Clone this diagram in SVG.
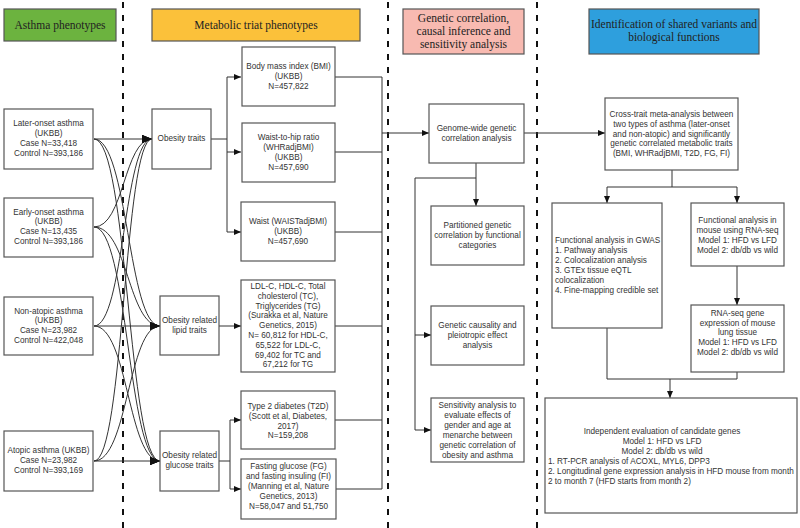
<svg xmlns="http://www.w3.org/2000/svg" width="800" height="528" viewBox="0 0 800 528">
<defs>
<style>
.bx{fill:#fff;stroke:#555;stroke-width:1.2}
.t{font-family:"Liberation Sans",Arial,sans-serif;font-size:8.2px;fill:#333;text-anchor:middle}
.tl{font-family:"Liberation Sans",Arial,sans-serif;font-size:8.2px;fill:#333}
.h{font-family:"Liberation Serif","Times New Roman",serif;font-size:11.5px;fill:#222;text-anchor:middle}
.hb{stroke:#555;stroke-width:1.2}
.c{fill:none;stroke:#333;stroke-width:1}
.d{stroke:#111;stroke-width:2;stroke-dasharray:6 7}
</style>
<marker id="a" markerWidth="7" markerHeight="6" refX="7" refY="3" orient="auto" markerUnits="userSpaceOnUse"><path d="M0,0L7,3L0,6z" fill="#111"/></marker>
<marker id="ab" markerWidth="10" markerHeight="8" refX="10" refY="4" orient="auto" markerUnits="userSpaceOnUse"><path d="M0,0L10,4L0,8z" fill="#111"/></marker>
</defs>
<rect width="800" height="528" fill="#fff"/>
<g id="dividers">
<line class="d" x1="123" y1="2" x2="123" y2="528"/>
<line class="d" x1="388" y1="2" x2="388" y2="528"/>
<line class="d" x1="537" y1="2" x2="537" y2="528"/>
</g>
<g id="h1"><rect class="hb" x="4" y="9" width="112" height="32" fill="#6cb33f"/><text class="h" x="60" y="29">Asthma phenotypes</text></g>
<g id="h2"><rect class="hb" x="152" y="9" width="208" height="32" fill="#fbc13a"/><text class="h" x="256" y="29">Metabolic triat phenotypes</text></g>
<g id="h3"><rect class="hb" x="403" y="9" width="121" height="45" fill="#f8bab1"/><text class="h" x="463.5" y="22">Genetic correlation,</text><text class="h" x="463.5" y="35">causal inference and</text><text class="h" x="463.5" y="48">sensitivity analysis</text></g>
<g id="h4"><rect class="hb" x="589" y="9" width="170" height="45" fill="#2e9fdd"/><text class="h" x="674" y="28">Identification of shared variants and</text><text class="h" x="674" y="41">biological functions</text></g>

<g id="connectors">
<!-- asthma curves -->
<path class="c" marker-end="url(#ab)" d="M94,139L152,139"/>
<path class="c" marker-end="url(#ab)" d="M94,139C128,139 128,326 160,326"/>
<path class="c" marker-end="url(#ab)" d="M94,139C128,139 128,461 160,461"/>
<path class="c" marker-end="url(#ab)" d="M94,227C124,227 124,139 152,139"/>
<path class="c" marker-end="url(#ab)" d="M94,227C128,227 128,326 160,326"/>
<path class="c" marker-end="url(#ab)" d="M94,227C128,227 128,461 160,461"/>
<path class="c" marker-end="url(#ab)" d="M94,326C124,326 124,139 152,139"/>
<path class="c" marker-end="url(#ab)" d="M94,326L160,326"/>
<path class="c" marker-end="url(#ab)" d="M94,326C128,326 128,461 160,461"/>
<path class="c" marker-end="url(#ab)" d="M94,461C124,461 124,139 152,139"/>
<path class="c" marker-end="url(#ab)" d="M94,461C128,461 128,326 160,326"/>
<path class="c" marker-end="url(#ab)" d="M94,461L160,461"/>
<!-- obesity traits -->
<path class="c" d="M211,139H227M227,77V232"/>
<path class="c" marker-end="url(#a)" d="M227,77H241"/>
<path class="c" marker-end="url(#a)" d="M227,152H241"/>
<path class="c" marker-end="url(#a)" d="M227,232H241"/>
<path class="c" marker-end="url(#a)" d="M219,326H241"/>
<path class="c" d="M219,461H230M230,420V489"/>
<path class="c" marker-end="url(#a)" d="M230,420H241"/>
<path class="c" marker-end="url(#a)" d="M230,489H241"/>
<!-- to vertical -->
<path class="c" d="M335,77H382M335,152H382M335,232H382M335,326H382M335,420H382M336,489H382M382,77V489"/>
<path class="c" marker-end="url(#a)" d="M382,133H429"/>
<!-- genome -->
<path class="c" marker-end="url(#a)" d="M476,163V206"/>
<path class="c" d="M476,178H415V430"/>
<path class="c" marker-end="url(#a)" d="M415,335H431"/>
<path class="c" marker-end="url(#a)" d="M415,430H431"/>
<path class="c" marker-end="url(#a)" d="M524,133H605"/>
<!-- right -->
<path class="c" d="M672,170V187M607,187H737"/>
<path class="c" marker-end="url(#a)" d="M607,187V203"/>
<path class="c" marker-end="url(#a)" d="M737,187V203"/>
<path class="c" marker-end="url(#a)" d="M737,266V305"/>
<path class="c" d="M607,328V379H737V372"/>
<path class="c" marker-end="url(#a)" d="M670,379V398"/>
</g>

<g id="later"><rect class="bx" x="4" y="109" width="89" height="60"/><text class="t" x="48.5" y="126">Later-onset asthma</text><text class="t" x="48.5" y="136">(UKBB)</text><text class="t" x="48.5" y="146">Case N=33,418</text><text class="t" x="48.5" y="155.5">Control N=393,186</text></g>
<g id="early"><rect class="bx" x="4" y="198" width="89" height="59"/><text class="t" x="48.5" y="214.5">Early-onset asthma</text><text class="t" x="48.5" y="224">(UKBB)</text><text class="t" x="48.5" y="234">Case N=13,435</text><text class="t" x="48.5" y="244">Control N=393,186</text></g>
<g id="nonatopic"><rect class="bx" x="4" y="297" width="89" height="58"/><text class="t" x="48.5" y="313.5">Non-atopic asthma</text><text class="t" x="48.5" y="323">(UKBB)</text><text class="t" x="48.5" y="333">Case N=23,982</text><text class="t" x="48.5" y="343">Control N=422,048</text></g>
<g id="atopic"><rect class="bx" x="4" y="431" width="89" height="60"/><text class="t" x="48.5" y="453">Atopic asthma (UKBB)</text><text class="t" x="48.5" y="463">Case N=23,982</text><text class="t" x="48.5" y="473">Control N=393,169</text></g>

<g id="obesity"><rect class="bx" x="152" y="109" width="59" height="60"/><text class="t" x="181.5" y="141">Obesity traits</text></g>
<g id="lipid"><rect class="bx" x="160" y="296" width="59" height="59"/><text class="t" x="189.5" y="323">Obesity related</text><text class="t" x="189.5" y="333">lipid traits</text></g>
<g id="glucose"><rect class="bx" x="160" y="431" width="59" height="60"/><text class="t" x="189.5" y="458">Obesity related</text><text class="t" x="189.5" y="468">glucose traits</text></g>

<g id="bmi"><rect class="bx" x="242" y="47" width="93" height="59"/><text class="t" x="288.5" y="68.5">Body mass index (BMI)</text><text class="t" x="288.5" y="78.5">(UKBB)</text><text class="t" x="288.5" y="88.5">N=457,822</text></g>
<g id="whr"><rect class="bx" x="242" y="123" width="93" height="59"/><text class="t" x="288.5" y="140">Waist-to-hip ratio</text><text class="t" x="288.5" y="150">(WHRadjBMI)</text><text class="t" x="288.5" y="160">(UKBB)</text><text class="t" x="288.5" y="170">N=457,690</text></g>
<g id="waist"><rect class="bx" x="241" y="202" width="94" height="59"/><text class="t" x="288" y="224">Waist (WAISTadjBMI)</text><text class="t" x="288" y="234">(UKBB)</text><text class="t" x="288" y="244">N=457,690</text></g>
<g id="lipidtraits"><rect class="bx" x="241" y="280" width="94" height="92"/><text class="t" x="288" y="289">LDL-C, HDL-C, Total</text><text class="t" x="288" y="299">cholesterol (TC),</text><text class="t" x="288" y="308.5">Triglycerides (TG)</text><text class="t" x="288" y="318">(Surakka et al, Nature</text><text class="t" x="288" y="328">Genetics, 2015)</text><text class="t" x="288" y="338">N= 60,812 for HDL-C,</text><text class="t" x="288" y="347.5">65,522 for LDL-C,</text><text class="t" x="288" y="357.5">69,402 for TC and</text><text class="t" x="288" y="367">67,212 for TG</text></g>
<g id="t2d"><rect class="bx" x="241" y="391" width="94" height="58"/><text class="t" x="288" y="409">Type 2 diabetes (T2D)</text><text class="t" x="288" y="419">(Scott et al, Diabetes,</text><text class="t" x="288" y="428.5">2017)</text><text class="t" x="288" y="438">N=159,208</text></g>
<g id="fg"><rect class="bx" x="241" y="459" width="95" height="60"/><text class="t" x="288.5" y="469">Fasting glucose (FG)</text><text class="t" x="288.5" y="479">and fasting insuling (FI)</text><text class="t" x="288.5" y="489">(Manning et al, Nature</text><text class="t" x="288.5" y="499">Genetics, 2013)</text><text class="t" x="288.5" y="509">N=58,047 and 51,750</text></g>

<g id="genome"><rect class="bx" x="429" y="104" width="95" height="59"/><text class="t" x="476.5" y="131">Genome-wide genetic</text><text class="t" x="476.5" y="141">correlation analysis</text></g>
<g id="partitioned"><rect class="bx" x="431" y="206" width="93" height="59"/><text class="t" x="477.5" y="228">Partitioned genetic</text><text class="t" x="477.5" y="238">correlation by functional</text><text class="t" x="477.5" y="248">categories</text></g>
<g id="causality"><rect class="bx" x="431" y="306" width="93" height="59"/><text class="t" x="477.5" y="328">Genetic causality and</text><text class="t" x="477.5" y="338">pleiotropic effect</text><text class="t" x="477.5" y="348">analysis</text></g>
<g id="sensitivity"><rect class="bx" x="431" y="398" width="93" height="64"/><text class="t" x="477.5" y="408">Sensitivity analysis to</text><text class="t" x="477.5" y="418">evaluate effects of</text><text class="t" x="477.5" y="428">gender and age at</text><text class="t" x="477.5" y="438">menarche between</text><text class="t" x="477.5" y="448">genetic correlation of</text><text class="t" x="477.5" y="458">obesity and asthma</text></g>

<g id="crosstrait"><rect class="bx" x="605" y="98" width="133" height="72"/><text class="t" x="671.5" y="117">Cross-trait meta-analysis between</text><text class="t" x="671.5" y="127">two types of asthma (later-onset</text><text class="t" x="671.5" y="136.5">and non-atopic) and significantly</text><text class="t" x="671.5" y="146">genetic correlated metabolic traits</text><text class="t" x="671.5" y="155.5">(BMI, WHRadjBMI, T2D, FG, FI)</text></g>
<g id="gwas"><rect class="bx" x="552" y="203" width="110" height="125"/><text class="tl" x="555" y="243">Functional analysis in GWAS</text><text class="tl" x="555" y="253">1. Pathway analysis</text><text class="tl" x="555" y="263">2. Colocalization analysis</text><text class="tl" x="555" y="273">3. GTEx tissue eQTL</text><text class="tl" x="555" y="283">colocalization</text><text class="tl" x="555" y="293">4. Fine-mapping credible set</text></g>
<g id="mouse"><rect class="bx" x="691" y="203" width="93" height="63"/><text class="t" x="737.5" y="223">Functional analysis in</text><text class="t" x="737.5" y="233">mouse using RNA-seq</text><text class="t" x="737.5" y="243">Model 1: HFD vs LFD</text><text class="t" x="737.5" y="253">Model 2: db/db vs wild</text></g>
<g id="rnaseq"><rect class="bx" x="691" y="305" width="93" height="67"/><text class="t" x="737.5" y="316">RNA-seq gene</text><text class="t" x="737.5" y="325.5">expression of mouse</text><text class="t" x="737.5" y="335">lung tissue</text><text class="t" x="737.5" y="345">Model 1: HFD vs LFD</text><text class="t" x="737.5" y="354.5">Model 2: db/db vs wild</text></g>
<g id="independent"><rect class="bx" x="545" y="398" width="252" height="115"/><text class="t" x="662" y="434">Independent evaluation of candidate genes</text><text class="t" x="662" y="444">Model 1: HFD vs LFD</text><text class="t" x="662" y="454">Model 2: db/db vs wild</text><text class="tl" x="548" y="464">1. RT-PCR analysis of ACOXL, MYL6, DPP3</text><text class="tl" x="548" y="474">2. Longitudinal gene expression analysis in HFD mouse from month</text><text class="tl" x="548" y="484">2 to month 7 (HFD starts from month 2)</text></g>
</svg>
